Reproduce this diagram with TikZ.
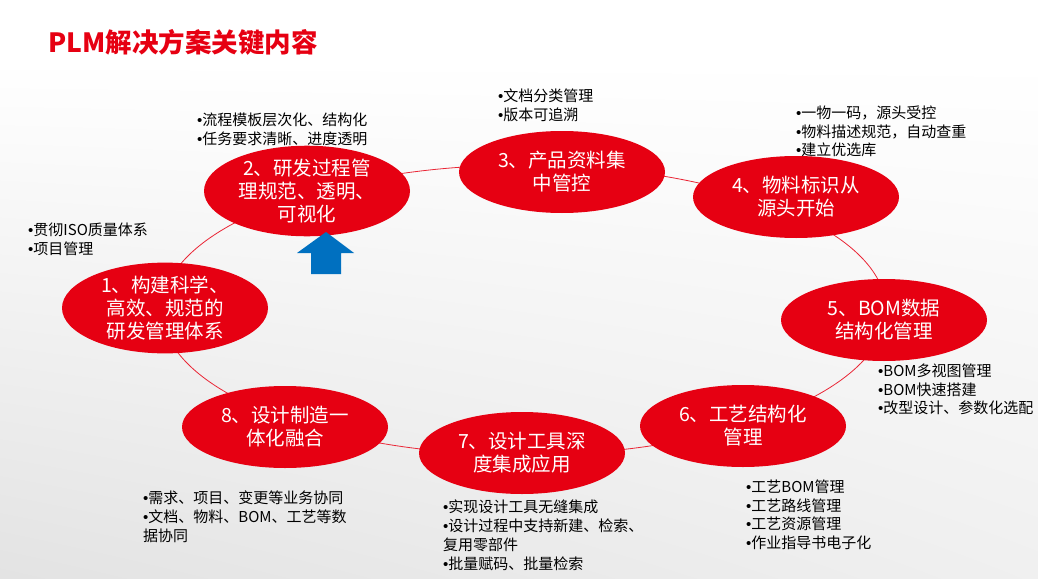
\documentclass[tikz,border=0pt]{standalone}
\usepackage{fontspec}
\setmainfont{Noto Sans CJK SC}
\newfontfamily\bulletfont{Liberation Sans}
\usetikzlibrary{shapes.geometric,shadings}
\definecolor{plmred}{RGB}{230,0,18}
\definecolor{plmblue}{RGB}{0,112,192}
\newcommand{\bl}{{\bulletfont\textbullet}}

\begin{document}
\begin{tikzpicture}[x=1pt,y=-1pt,
    stage/.style={ellipse,fill=plmred,minimum width=206pt,minimum height=82pt,inner sep=0pt,
                  align=center,text=white,font=\fontsize{19.5}{23}\selectfont},
    note/.style={anchor=north west,inner sep=0pt,align=left,font=\fontsize{15}{18.8}\selectfont},
    ring/.style={draw=plmred!85,line width=0.8pt}]
    \useasboundingbox (0,0) rectangle (1038,578);
    \shade[upper left=white,upper right=white,lower left=gray!22,lower right=gray!12] (0,60) rectangle (1038,578);

    \node[anchor=west,text=plmred,font=\fontsize{26.5}{30}\selectfont\bfseries] (title) at (45,42.5) {PLM解决方案关键内容};

    \coordinate (hub) at (524,310);
    \draw[ring] (hub) ellipse [x radius=362,y radius=145];

    \node[stage] (s1) at (165,308) {1、构建科学、\\高效、规范的\\研发管理体系};
    \node[stage] (s2) at (307,191) {2、研发过程管\\理规范、透明、\\可视化};
    \node[stage] (s3) at (562,172) {3、产品资料集\\中管控};
    \node[stage] (s4) at (796,197) {4、物料标识从\\源头开始};
    \node[stage] (s5) at (884,320) {5、BOM数据\\结构化管理};
    \node[stage] (s6) at (743,426) {6、工艺结构化\\管理};
    \node[stage] (s7) at (522,453) {7、设计工具深\\度集成应用};
    \node[stage] (s8) at (285,427) {8、设计制造一\\体化融合};

    \fill[plmblue] (297,253) -- (326,232) -- (354,253) -- (341,253) -- (341,274) -- (311,274) -- (311,253) -- cycle;

    \node[note] (n1) at (28,222.5) {\bl 贯彻ISO质量体系\\\bl 项目管理};
    \node[note] (n2) at (197,113) {\bl 流程模板层次化、结构化\\\bl 任务要求清晰、进度透明};
    \node[note] (n3) at (498,88.5) {\bl 文档分类管理\\\bl 版本可追溯};
    \node[note] (n4) at (796,105.5) {\bl 一物一码，源头受控\\\bl 物料描述规范，自动查重\\\bl 建立优选库};
    \node[note] (n5) at (878,363.5) {\bl BOM多视图管理\\\bl BOM快速搭建\\\bl 改型设计、参数化选配};
    \node[note] (n6) at (746,479.5) {\bl 工艺BOM管理\\\bl 工艺路线管理\\\bl 工艺资源管理\\\bl 作业指导书电子化};
    \node[note] (n7) at (443,500) {\bl 实现设计工具无缝集成\\\bl 设计过程中支持新建、检索、\\复用零部件\\\bl 批量赋码、批量检索};
    \node[note] (n8) at (143,490.5) {\bl 需求、项目、变更等业务协同\\\bl 文档、物料、BOM、工艺等数\\据协同};
\end{tikzpicture}
\end{document}
